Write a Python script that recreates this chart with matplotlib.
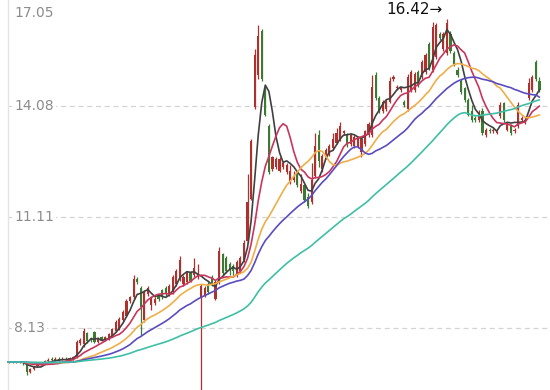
import matplotlib
matplotlib.use("Agg")
import matplotlib.pyplot as plt
import numpy as np
import pandas as pd

# ---- data ----
opens = [7.20, 7.22, 7.21, 7.23, 7.20, 7.15, 6.95, 7.02, 7.10, 7.16,
         7.20, 7.24, 7.30, 7.27, 7.31, 7.28, 7.31, 7.28, 7.30, 7.35,
         7.72, 7.70, 8.00, 7.85, 8.02, 7.76, 7.88, 7.80, 7.82, 7.90,
         8.05, 8.10, 8.35, 8.45, 8.85, 8.95, 9.45, 9.20, 8.35, 9.05,
         8.75, 8.80, 9.00, 9.15, 9.20, 9.05, 9.10, 9.30, 9.45, 9.30,
         9.35, 9.60, 9.55, 9.50, 8.95, 9.00, 9.30, 9.50, 8.90, 9.35,
         10.10, 10.00, 9.85, 9.80, 9.55, 9.65, 9.95, 10.45, 11.60, 14.05,
         14.90, 16.10, 14.55, 13.55, 12.40, 12.45, 12.35, 12.45, 12.30, 12.05,
         12.10, 12.25, 11.80, 11.95, 11.65, 11.50, 12.20, 13.30, 12.40, 12.70,
         12.80, 12.95, 13.10, 13.20, 13.35, 13.30, 13.05, 13.00, 13.00, 12.85,
         13.05, 13.30, 13.30, 14.90, 14.30, 13.95, 14.00, 14.20, 14.80, 14.55,
         14.50, 14.20, 14.00, 14.50, 14.50, 15.00, 14.85, 15.00, 15.75, 15.05,
         15.40, 16.00, 15.60, 15.50, 16.00, 15.50, 15.05, 14.75, 14.55, 14.25,
         13.95, 13.75, 13.70, 13.95, 13.30, 13.45, 13.40, 13.35, 13.80, 14.15,
         13.45, 13.55, 13.40, 13.55, 13.70, 13.65, 14.30, 14.50, 15.25, 14.75]
closes = [7.22, 7.21, 7.23, 7.20, 7.18, 6.95, 7.02, 7.10, 7.16, 7.20,
          7.24, 7.28, 7.26, 7.30, 7.27, 7.30, 7.28, 7.32, 7.35, 7.75,
          7.80, 8.05, 7.78, 7.80, 7.75, 7.86, 7.80, 7.88, 7.96, 8.10,
          8.30, 8.38, 8.55, 8.85, 8.95, 9.45, 9.35, 8.70, 9.10, 9.20,
          8.95, 8.90, 8.90, 8.95, 9.05, 9.25, 9.50, 9.65, 9.95, 9.50,
          9.60, 9.40, 9.75, 9.60, 9.25, 9.20, 9.10, 9.30, 9.35, 10.20,
          9.60, 9.65, 9.70, 9.65, 9.90, 10.00, 10.40, 11.50, 13.15, 15.45,
          15.95, 14.80, 13.85, 12.30, 12.70, 12.65, 12.65, 12.55, 12.50, 12.35,
          12.20, 11.95, 12.00, 11.55, 11.40, 12.10, 13.00, 12.60, 12.75, 12.90,
          13.00, 13.20, 13.35, 13.55, 13.40, 13.05, 13.30, 13.25, 13.25, 13.20,
          13.40, 13.60, 14.60, 14.30, 13.95, 14.20, 14.20, 14.75, 14.85, 14.60,
          14.55, 14.10, 14.85, 15.00, 14.95, 14.65, 15.25, 15.45, 15.10, 16.20,
          16.25, 15.90, 16.00, 16.30, 15.55, 15.20, 14.90, 14.45, 14.25, 13.85,
          13.70, 13.70, 13.85, 13.35, 13.45, 13.40, 13.45, 13.37, 14.10, 13.70,
          13.60, 13.35, 13.45, 14.10, 13.75, 13.70, 14.70, 14.85, 14.80, 14.50]
highs = [7.24, 7.24, 7.25, 7.24, 7.22, 7.17, 7.05, 7.12, 7.18, 7.22,
         7.28, 7.33, 7.34, 7.35, 7.36, 7.34, 7.35, 7.34, 7.37, 7.82,
         7.85, 8.12, 8.03, 7.88, 8.06, 7.90, 7.92, 7.91, 8.00, 8.14,
         8.34, 8.42, 8.60, 8.90, 9.00, 9.55, 9.50, 9.25, 9.15, 9.25,
         9.00, 8.95, 9.05, 9.18, 9.25, 9.30, 9.55, 9.70, 10.05, 9.55,
         9.65, 9.65, 10.00, 9.85, 9.30, 9.25, 9.35, 9.55, 9.42, 10.30,
         10.15, 10.05, 9.90, 9.85, 9.95, 10.05, 10.50, 12.25, 13.20, 15.60,
         16.25, 16.15, 14.60, 13.60, 12.75, 12.70, 12.70, 12.60, 12.55, 12.50,
         12.35, 12.30, 12.25, 12.00, 11.75, 12.55, 13.35, 13.45, 12.80, 12.95,
         13.05, 13.35, 13.50, 13.65, 13.45, 13.35, 13.35, 13.30, 13.28, 13.25,
         13.45, 13.65, 14.90, 15.00, 14.35, 14.25, 14.25, 14.85, 14.90, 14.65,
         14.60, 14.25, 14.95, 15.05, 15.00, 15.05, 15.30, 15.50, 15.80, 16.33,
         16.30, 16.05, 16.05, 16.42, 16.10, 15.55, 15.12, 14.80, 14.60, 14.30,
         14.10, 13.80, 13.97, 14.03, 13.50, 13.50, 13.50, 13.40, 14.20, 14.20,
         13.65, 13.60, 13.50, 14.20, 13.80, 13.75, 14.83, 14.90, 15.31, 14.86]
lows = [7.18, 7.19, 7.19, 7.18, 7.14, 6.88, 6.92, 7.00, 7.08, 7.14,
        7.18, 7.22, 7.24, 7.25, 7.25, 7.26, 7.26, 7.26, 7.28, 7.32,
        7.68, 7.62, 7.74, 7.76, 7.72, 7.74, 7.77, 7.78, 7.80, 7.88,
        8.02, 8.08, 8.30, 8.42, 8.80, 8.92, 9.30, 7.95, 8.30, 9.00,
        8.62, 8.75, 8.85, 8.90, 9.00, 9.00, 9.05, 9.25, 9.40, 9.25,
        9.30, 9.35, 9.50, 9.45, 6.20, 8.95, 9.05, 9.25, 8.88, 9.30,
        9.55, 9.60, 9.55, 9.50, 9.50, 9.60, 9.90, 10.40, 11.55, 14.00,
        14.80, 14.75, 13.80, 12.25, 12.35, 12.40, 12.30, 12.40, 12.25, 12.00,
        12.05, 11.90, 11.75, 11.50, 11.35, 11.45, 12.15, 12.45, 12.30, 12.65,
        12.75, 12.90, 13.05, 13.15, 13.30, 12.98, 13.00, 12.95, 12.95, 12.70,
        13.00, 13.25, 13.25, 14.25, 13.90, 13.90, 13.95, 14.15, 14.75, 14.50,
        14.45, 14.05, 13.95, 14.45, 14.45, 14.60, 14.80, 14.95, 15.05, 15.00,
        15.35, 15.85, 15.55, 15.45, 15.50, 15.15, 14.85, 14.40, 14.20, 13.80,
        13.65, 13.65, 13.65, 13.30, 13.25, 13.35, 13.35, 13.32, 13.75, 13.65,
        13.40, 13.30, 13.35, 13.50, 13.65, 13.60, 14.25, 14.45, 14.75, 14.45]
tick_values = [17.05, 14.08, 11.11, 8.13]
tick_labels = ["17.05", "14.08", "11.11", "8.13"]
ma_periods = [5, 10, 20, 30, 60]
ma_colors = ["#404040", "#c8365e", "#f0ae48", "#5a4cc0", "#3fbfa5"]
up_color = "#b0302e"
down_color = "#3b7a32"

# ---- figure ----
W, H = 550, 390
fig = plt.figure(figsize=(W / 100, H / 100), dpi=100)
ax = fig.add_axes([0, 0, 1, 1])
for s in ax.spines.values():
    s.set_visible(False)
ax.set_xticks([])
ax.set_yticks([])

n = len(closes)
idx = np.arange(n)
o = np.array(opens); c = np.array(closes); h = np.array(highs); l = np.array(lows)

x0_px, step_px = 9.0, 3.56
ax.set_xlim(-x0_px / step_px, (W - x0_px) / step_px)
ppu = 37.31
ymax = 14.08 + 106 / ppu
ymin = 14.08 - (H - 106) / ppu
ax.set_ylim(ymin, ymax)

# grid lines & left border
for v in tick_values:
    ax.axhline(v, xmin=8 / W, color="#d4d4d4", lw=0.9, ls=(0, (4, 3)), zorder=0)
x_left = (8 - x0_px) / step_px
ax.axvline(x_left, color="#e4e4e4", lw=1.0, zorder=0)

# moving averages (window padded at the start with the first close)
for p, col in zip(ma_periods, ma_colors):
    padded = pd.Series(np.concatenate([np.repeat(c[0], p - 1), c]))
    ma = padded.rolling(p).mean().values[p - 1:]
    xs = np.concatenate([[x_left], idx])
    ys = np.concatenate([[ma[0]], ma])
    ax.plot(xs, ys, color=col, lw=1.2, zorder=3, solid_capstyle="round")

# candles
up = c >= o
colors = np.where(up, up_color, down_color)
ax.vlines(idx, l, h, colors=colors, lw=0.9, zorder=2)
body_lo = np.minimum(o, c)
body_h = np.maximum(np.abs(c - o), 0.03)
ax.bar(idx, body_h, bottom=body_lo, width=0.6, color=colors, linewidth=0, zorder=2)

# y labels
lx = (14 - x0_px) / step_px
for v, t in zip(tick_values, tick_labels):
    if v > ymax - 0.2:
        ax.text(lx, ymax - 0.17, t, ha="left", va="top",
                fontsize=10, color="#8c8c8c", zorder=5)
    else:
        ax.text(lx, v, t, ha="left", va="center",
                fontsize=10, color="#8c8c8c", zorder=5,
                bbox=dict(boxstyle="square,pad=0.15", fc="white", ec="none"))

# max marker
imax = int(np.argmax(h))
ax.annotate(f"{h[imax]:.2f}\u2192", xy=(imax, h[imax]), xytext=(-3, 3.5),
            textcoords="offset points", ha="right", va="baseline",
            fontsize=11, color="#111111", zorder=6)

fig.savefig("out.png", dpi=100)
